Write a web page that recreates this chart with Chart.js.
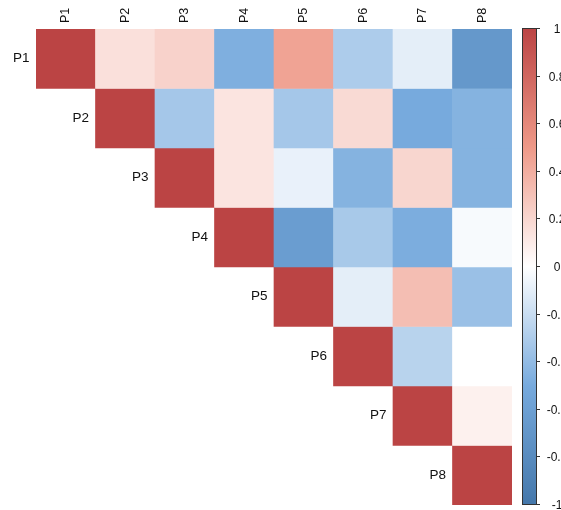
<!DOCTYPE html>
<html>
<head>
<meta charset="utf-8">
<script src="https://cdn.jsdelivr.net/npm/chart.js@4/dist/chart.umd.min.js"></script>
<style>
  html, body { margin: 0; padding: 0; background: #ffffff; }
  #wrap { width: 561px; height: 510px; }
</style>
</head>
<body>
<div id="wrap"><canvas id="c" width="561" height="510"></canvas></div>
<script>
// Variable names (rows and columns of the correlation matrix)
const vars = ['P1', 'P2', 'P3', 'P4', 'P5', 'P6', 'P7', 'P8'];

// Upper-triangle correlations, each row starting at its diagonal
const rowP1 = [1, 0.15, 0.22, -0.47, 0.45, -0.30, -0.10, -0.68];
const rowP2 = [1, -0.33, 0.13, -0.33, 0.18, -0.50, -0.45];
const rowP3 = [1, 0.13, -0.08, -0.45, 0.20, -0.45];
const rowP4 = [1, -0.63, -0.32, -0.48, -0.03];
const rowP5 = [1, -0.10, 0.32, -0.37];
const rowP6 = [1, -0.26, 0.00];
const rowP7 = [1, 0.07];
const rowP8 = [1];
const rows = [rowP1, rowP2, rowP3, rowP4, rowP5, rowP6, rowP7, rowP8];

// Colour bar tick values
const legendTicks = [1, 0.8, 0.6, 0.4, 0.2, 0, -0.2, -0.4, -0.6, -0.8, -1];

// Diverging palette: -1 .. 1
const palette = ['#4477AA', '#77AADD', '#FFFFFF', '#EE9988', '#BB4444'];

function hexToRgb(h) {
  const n = parseInt(h.slice(1), 16);
  return [(n >> 16) & 255, (n >> 8) & 255, n & 255];
}
const paletteRgb = palette.map(hexToRgb);

function colorFor(v) {
  const t = (Math.max(-1, Math.min(1, v)) + 1) / 2 * (paletteRgb.length - 1);
  const i = Math.min(Math.floor(t), paletteRgb.length - 2);
  const f = t - i;
  const a = paletteRgb[i], b = paletteRgb[i + 1];
  const c = a.map((x, k) => Math.round(x + (b[k] - x) * f));
  return `rgb(${c[0]},${c[1]},${c[2]})`;
}

const FONT = '"Liberation Sans", Arial, Helvetica, sans-serif';

// One floating-bar dataset per row: each cell spans [row, row + 1] on the y scale
const datasets = rows.map((vals, i) => ({
  label: vars[i],
  data: vars.map((_, j) => (j >= i ? [i, i + 1] : null)),
  backgroundColor: vars.map((_, j) => (j >= i ? colorFor(vals[j - i]) : 'rgba(0,0,0,0)')),
  borderWidth: 0,
  grouped: false,
  barPercentage: 1,
  categoryPercentage: 1
}));

// Row labels, column labels and the colour bar
const corrDecor = {
  id: 'corrDecor',
  afterDraw(chart) {
    const { ctx, chartArea, scales } = chart;
    const xs = scales.x, ys = scales.y;
    const cellW = xs.getPixelForValue(1) - xs.getPixelForValue(0);
    ctx.save();
    ctx.fillStyle = '#111111';

    // Column labels, rotated, above the grid
    ctx.font = '12.5px ' + FONT;
    vars.forEach((name, j) => {
      const x = xs.getPixelForValue(j);
      ctx.save();
      ctx.translate(x, chartArea.top - 6);
      ctx.rotate(-Math.PI / 2);
      ctx.textAlign = 'left';
      ctx.textBaseline = 'middle';
      ctx.fillText(name, 0, 0);
      ctx.restore();
    });

    // Row labels, left of each diagonal cell
    ctx.font = '13.5px ' + FONT;
    vars.forEach((name, i) => {
      const left = xs.getPixelForValue(i) - cellW / 2;
      const y = (ys.getPixelForValue(i) + ys.getPixelForValue(i + 1)) / 2;
      ctx.textAlign = 'right';
      ctx.textBaseline = 'middle';
      ctx.fillText(name, left - 6.5, y);
    });

    // Colour bar
    const bx = 522, bw = 15;
    const top = chartArea.top - 1, bottom = chartArea.bottom;
    const grad = ctx.createLinearGradient(0, bottom, 0, top);
    palette.forEach((c, k) => grad.addColorStop(k / (palette.length - 1), c));
    ctx.fillStyle = grad;
    ctx.fillRect(bx, top, bw, bottom - top);
    ctx.strokeStyle = '#333333';
    ctx.lineWidth = 1;
    ctx.strokeRect(bx + 0.5, top + 0.5, bw - 1, bottom - top - 1);

    ctx.fillStyle = '#111111';
    ctx.font = '12px ' + FONT;
    ctx.textAlign = 'center';
    ctx.textBaseline = 'middle';
    legendTicks.forEach(v => {
      const y = Math.round(top + (1 - v) / 2 * (bottom - top - 1)) + 0.5;
      ctx.beginPath();
      ctx.moveTo(bx + bw - 1, y);
      ctx.lineTo(bx + bw + 3, y);
      ctx.stroke();
      ctx.fillText(String(v), 557, y + 1);
    });
    ctx.restore();
  }
};

new Chart(document.getElementById('c'), {
  type: 'bar',
  data: { labels: vars, datasets },
  options: {
    responsive: false,
    animation: false,
    layout: { padding: { left: 36, right: 49, top: 29, bottom: 5 } },
    plugins: { legend: { display: false }, tooltip: { enabled: false } },
    scales: {
      x: { type: 'category', display: false, offset: true },
      y: { type: 'linear', display: false, min: 0, max: 8, reverse: true }
    }
  },
  plugins: [corrDecor]
});
</script>
</body>
</html>
